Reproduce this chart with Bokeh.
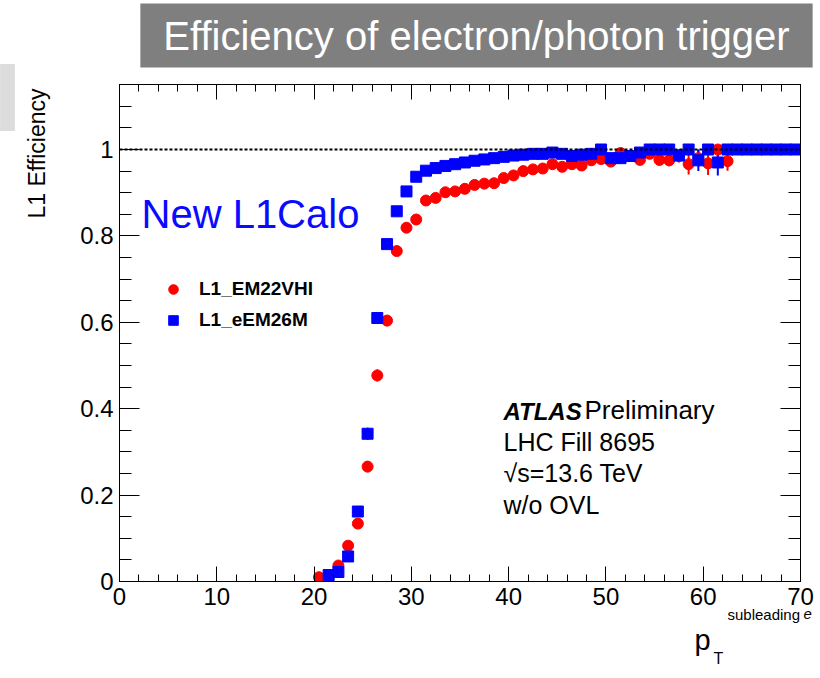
import numpy as np
from bokeh.plotting import figure
from bokeh.models import (Label, Span, Legend, LegendItem, LinearAxis,
                          SingleIntervalTicker, Range1d)
from bokeh.embed import file_html
from bokeh.resources import INLINE

# ---------------- data ----------------
red_x = [20.5, 21.5, 22.5, 23.5, 24.5, 25.5, 26.5, 27.5, 28.5, 29.5, 30.5, 31.5, 32.5, 33.5,
         34.5, 35.5, 36.5, 37.5, 38.5, 39.5, 40.5, 41.5, 42.5, 43.5, 44.5, 45.5, 46.5, 47.5,
         48.5, 49.5, 50.5, 51.5, 52.5, 53.5, 54.5, 55.5, 56.5, 57.5, 58.5, 59.5, 60.5, 61.5, 62.5]
red_y = [0.010, 0.015, 0.037, 0.083, 0.134, 0.266, 0.477, 0.604, 0.765, 0.819, 0.838, 0.882,
         0.888, 0.901, 0.903, 0.909, 0.918, 0.921, 0.922, 0.934, 0.940, 0.950, 0.954, 0.956,
         0.966, 0.960, 0.966, 0.963, 0.975, 0.978, 0.972, 0.992, 0.985, 0.976, 0.990, 0.976,
         0.975, 0.985, 0.966, 0.980, 0.968, 1.000, 0.973]
red_err = [0.004, 0.005, 0.007, 0.009, 0.011, 0.013, 0.014, 0.013, 0.011, 0.009, 0.008, 0.007,
           0.006, 0.006, 0.006, 0.006, 0.006, 0.006, 0.006, 0.006, 0.006, 0.006, 0.006, 0.006,
           0.006, 0.007, 0.007, 0.008, 0.008, 0.009, 0.010, 0.010, 0.011, 0.012, 0.012, 0.013,
           0.014, 0.015, 0.024, 0.020, 0.027, 0.035, 0.022]

blue_x = [21.5, 22.5, 23.5, 24.5, 25.5, 26.5, 27.5, 28.5, 29.5, 30.5, 31.5, 32.5, 33.5, 34.5,
          35.5, 36.5, 37.5, 38.5, 39.5, 40.5, 41.5, 42.5, 43.5, 44.5, 45.5, 46.5, 47.5, 48.5,
          49.5, 50.5, 51.5, 52.5, 53.5, 54.5, 55.5, 56.5, 57.5, 58.5, 59.5, 60.5, 61.5, 62.5,
          63.5, 64.5, 65.5, 66.5, 67.5, 68.5, 69.5]
blue_y = [0.015, 0.022, 0.058, 0.162, 0.342, 0.610, 0.781, 0.857, 0.903, 0.937, 0.951, 0.957,
          0.962, 0.966, 0.970, 0.974, 0.977, 0.980, 0.983, 0.986, 0.988, 0.990, 0.990, 0.993,
          0.990, 0.985, 0.988, 0.990, 1.000, 0.980, 0.980, 0.985, 0.993, 1.000, 1.000, 1.000,
          0.986, 1.000, 0.975, 1.000, 0.970, 1.000, 1.000, 1.000, 1.000, 1.000, 1.000, 1.000,
          1.000]
blue_err = [0.004, 0.005, 0.008, 0.012, 0.014, 0.014, 0.012, 0.010, 0.008, 0.006, 0.005, 0.005,
            0.005, 0.005, 0.004, 0.004, 0.004, 0.004, 0.004, 0.004, 0.004, 0.004, 0.004, 0.004,
            0.005, 0.006, 0.006, 0.006, 0.006, 0.007, 0.008, 0.008, 0.008, 0.008, 0.008, 0.009,
            0.015, 0.010, 0.025, 0.010, 0.030, 0.010, 0.010, 0.010, 0.010, 0.010, 0.010, 0.010,
            0.010]

series_names = ["L1_EM22VHI", "L1_eEM26M"]
x_ticks_interval = 10
y_ticks_interval = 0.2

FONT = "Liberation Sans"

# ---------------- figure ----------------
p = figure(width=820, height=678, output_backend="svg", toolbar_location=None,
           x_range=Range1d(0, 70), y_range=Range1d(0, 1.1505),
           min_border_left=119, min_border_right=20, min_border_top=84, min_border_bottom=97,
           background_fill_color="white", border_fill_color="white")
p.outline_line_color = "black"
p.outline_line_width = 1
p.xgrid.visible = False
p.ygrid.visible = False

def style_axis(ax, major_in, minor_in, labels=True):
    ax.axis_line_color = "black"
    ax.major_tick_line_color = "black"
    ax.minor_tick_line_color = "black"
    ax.major_tick_in = major_in
    ax.major_tick_out = 0
    ax.minor_tick_in = minor_in
    ax.minor_tick_out = 0
    ax.major_label_text_font = FONT
    if labels:
        ax.major_label_text_font_size = "24px"
        ax.major_label_text_color = "black"
        ax.major_label_standoff = 6
    else:
        ax.major_label_text_font_size = "1px"
        ax.major_label_text_color = None
        ax.major_label_standoff = 0

p.xaxis.ticker = SingleIntervalTicker(interval=x_ticks_interval, num_minor_ticks=5)
p.yaxis.ticker = SingleIntervalTicker(interval=y_ticks_interval, num_minor_ticks=4)
style_axis(p.xaxis[0], 15, 7)
style_axis(p.yaxis[0], 20, 12)
p.yaxis[0].major_label_overrides = {0: "0", 1: "1"}

top_ax = LinearAxis(ticker=SingleIntervalTicker(interval=x_ticks_interval, num_minor_ticks=5))
style_axis(top_ax, 15, 7, labels=False)
p.add_layout(top_ax, "above")
right_ax = LinearAxis(ticker=SingleIntervalTicker(interval=y_ticks_interval, num_minor_ticks=4))
style_axis(right_ax, 20, 12, labels=False)
p.add_layout(right_ax, "right")

# dotted line at 1
p.add_layout(Span(location=1.0, dimension="width", line_color="black",
                  line_dash="3 2", line_width=1.8))

# error bars
rx = np.array(red_x); ry = np.array(red_y); re = np.array(red_err)
bx = np.array(blue_x); by = np.array(blue_y); be = np.array(blue_err)
p.segment(x0=rx, y0=ry - re, x1=rx, y1=np.minimum(ry + re, 1.0), line_color="red", line_width=2)
p.segment(x0=bx, y0=by - be, x1=bx, y1=np.minimum(by + be, 1.0), line_color="blue", line_width=2)

r_red = p.scatter(x=red_x, y=red_y, marker="circle", size=11, fill_color="red",
                  line_color="red")
r_blue = p.scatter(x=blue_x, y=blue_y, marker="square", size=11, fill_color="blue",
                   line_color="blue")

legend = Legend(items=[LegendItem(label=series_names[0], renderers=[r_red]),
                       LegendItem(label=series_names[1], renderers=[r_blue])],
                location=(42, 246), orientation="vertical",
                background_fill_alpha=0, border_line_color=None,
                label_text_font=FONT, label_text_font_style="bold", label_text_color="black",
                label_text_font_size="19px", label_height=31, glyph_height=24,
                glyph_width=24, label_standoff=14, spacing=0, padding=0, margin=0)
p.add_layout(legend, "center")

def px2x(px):
    return (px - 119) / 9.7286

def px2y(py):
    return (581 - py) / 432.0

def mid(baseline_px, fs):
    # vertical centre of a text line whose baseline is at baseline_px
    return px2y(baseline_px - 0.35 * fs)

# ---- texts outside the frame (placed in side panels so they are not clipped) ----
p.add_layout(Label(x=px2x(476), y=px2y(35), text="Efficiency of electron/photon trigger",
                   text_font=FONT, text_font_size="40px", text_color="white",
                   text_align="center", text_baseline="middle",
                   background_fill_color="#7f7f7f", background_fill_alpha=1.0,
                   padding=dict(left=23, right=23, top=10, bottom=10)), "above")

left_labels = [
    Label(x=px2x(7), y=px2y(97), text=" ", text_font=FONT,
          text_font_size="10px", text_align="center", text_baseline="middle",
          background_fill_color="#dcdcdc", background_fill_alpha=1.0,
          padding=dict(left=6, right=6, top=28, bottom=28)),
    Label(x=px2x(36), y=px2y(88), text="L1 Efficiency", angle=np.pi / 2,
          text_font=FONT, text_font_size="23px", text_color="black",
          text_align="right", text_baseline="middle"),
    Label(x=px2x(713), y=mid(664, 16), text="T", text_font=FONT,
          text_font_size="16px", text_color="black", text_baseline="middle"),
    Label(x=px2x(803), y=mid(619, 15), text="e", text_font=FONT,
          text_font_style="italic", text_font_size="15px", text_color="black",
          text_baseline="middle"),
]
for lab in left_labels:
    p.add_layout(lab, "left")

below_labels = [
    Label(x=px2x(694), y=mid(650, 29), text="p", text_font=FONT,
          text_font_size="29px", text_color="black", text_baseline="middle"),
    Label(x=px2x(727), y=mid(619, 15), text="subleading", text_font=FONT,
          text_font_size="15px", text_color="black", text_baseline="middle"),
]
for lab in below_labels:
    p.add_layout(lab, "below")

# ---- texts inside the frame ----
p.add_layout(Label(x=px2x(141), y=mid(227, 40), text="New L1Calo", text_font=FONT,
                   text_font_size="40px", text_color="#0a0aff", text_align="left",
                   text_baseline="middle"))

p.add_layout(Label(x=px2x(503), y=mid(419, 24), text="ATLAS", text_font=FONT,
                   text_font_style="bold italic", text_font_size="24px", text_color="black",
                   text_baseline="middle"))
p.add_layout(Label(x=px2x(584), y=mid(419, 26), text="Preliminary", text_font=FONT,
                   text_font_size="26px", text_color="black", text_baseline="middle"))
for txt, by_ in [("LHC Fill 8695", 450), ("\u221As=13.6 TeV", 481), ("w/o OVL", 513)]:
    p.add_layout(Label(x=px2x(503), y=mid(by_, 25), text=txt, text_font=FONT,
                       text_font_size="25px", text_color="black", text_baseline="middle"))

open("out.html", "w").write(file_html(p, INLINE))
